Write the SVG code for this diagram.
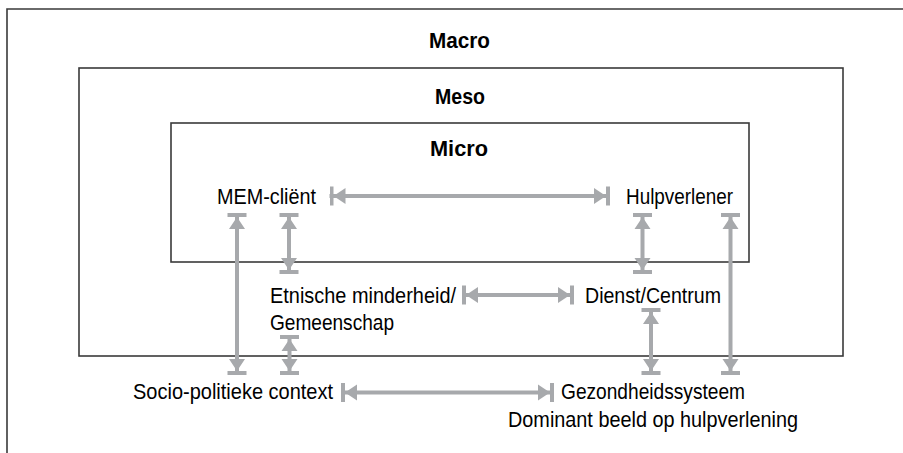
<svg xmlns="http://www.w3.org/2000/svg" width="903" height="453" viewBox="0 0 903 453">
<style>
.box{fill:none;stroke:#3a3a3a;stroke-width:1.6}
.title{font-family:"Liberation Sans Narrow","Liberation Sans",Arial,sans-serif;font-weight:bold;font-size:22.5px;fill:#000;text-anchor:middle}
.lbl{font-family:"Liberation Sans Narrow","Liberation Sans",Arial,sans-serif;font-size:22.5px;fill:#000}
.conn{stroke:#a7a9ac;stroke-width:4;fill:none;marker-start:url(#tee);marker-end:url(#tee)}
</style>
<defs>
<marker id="tee" markerUnits="userSpaceOnUse" viewBox="0 -10 16 20" markerWidth="16" markerHeight="20" refX="16" refY="0" orient="auto-start-reverse">
<path d="M0,-8 L12,0 L0,8 Z M12,-9.5 H16 V9.5 H12 Z" fill="#a7a9ac"/>
</marker>
</defs>
<rect width="903" height="453" fill="#fff"/>
<g id="macro">
<path class="box" d="M7,453 V9 H903" stroke-width="2"/>
<text class="title" x="459.5" y="47.5" textLength="61" lengthAdjust="spacingAndGlyphs">Macro</text>
</g>
<g id="meso">
<rect class="box" x="79" y="68" width="764" height="288"/>
<text class="title" x="460" y="103.5" textLength="50" lengthAdjust="spacingAndGlyphs">Meso</text>
</g>
<g id="micro">
<rect class="box" x="171" y="123" width="578" height="139"/>
<text class="title" x="459" y="156" textLength="58" lengthAdjust="spacingAndGlyphs">Micro</text>
</g>
<g id="mem-client"><text class="lbl" x="217" y="204" textLength="99" lengthAdjust="spacingAndGlyphs">MEM-cliënt</text></g>
<g id="hulpverlener"><text class="lbl" x="626" y="204" textLength="107" lengthAdjust="spacingAndGlyphs">Hulpverlener</text></g>
<g id="etnische">
<text class="lbl" x="270" y="303" textLength="186" lengthAdjust="spacingAndGlyphs">Etnische minderheid/</text>
<text class="lbl" x="270" y="330" textLength="124" lengthAdjust="spacingAndGlyphs">Gemeenschap</text>
</g>
<g id="dienst"><text class="lbl" x="585" y="303" textLength="136" lengthAdjust="spacingAndGlyphs">Dienst/Centrum</text></g>
<g id="socio"><text class="lbl" x="133" y="399" textLength="200" lengthAdjust="spacingAndGlyphs">Socio-politieke context</text></g>
<g id="gezondheid">
<text class="lbl" x="561" y="399" textLength="184" lengthAdjust="spacingAndGlyphs">Gezondheidssysteem</text>
<text class="lbl" x="508" y="427" textLength="290" lengthAdjust="spacingAndGlyphs">Dominant beeld op hulpverlening</text>
</g>
<g id="connectors">
<line class="conn" x1="329.5" y1="196" x2="610" y2="196"/>
<line class="conn" x1="462" y1="295" x2="574" y2="295"/>
<line class="conn" x1="341" y1="392.5" x2="554" y2="392.5"/>
<line class="conn" x1="237" y1="213" x2="237" y2="375"/>
<line class="conn" x1="289" y1="213" x2="289" y2="274"/>
<line class="conn" x1="289.5" y1="335" x2="289.5" y2="375"/>
<line class="conn" x1="642.5" y1="213" x2="642.5" y2="274"/>
<line class="conn" x1="730.5" y1="213" x2="730.5" y2="375"/>
<line class="conn" x1="651" y1="308" x2="651" y2="375"/>
</g>
</svg>
